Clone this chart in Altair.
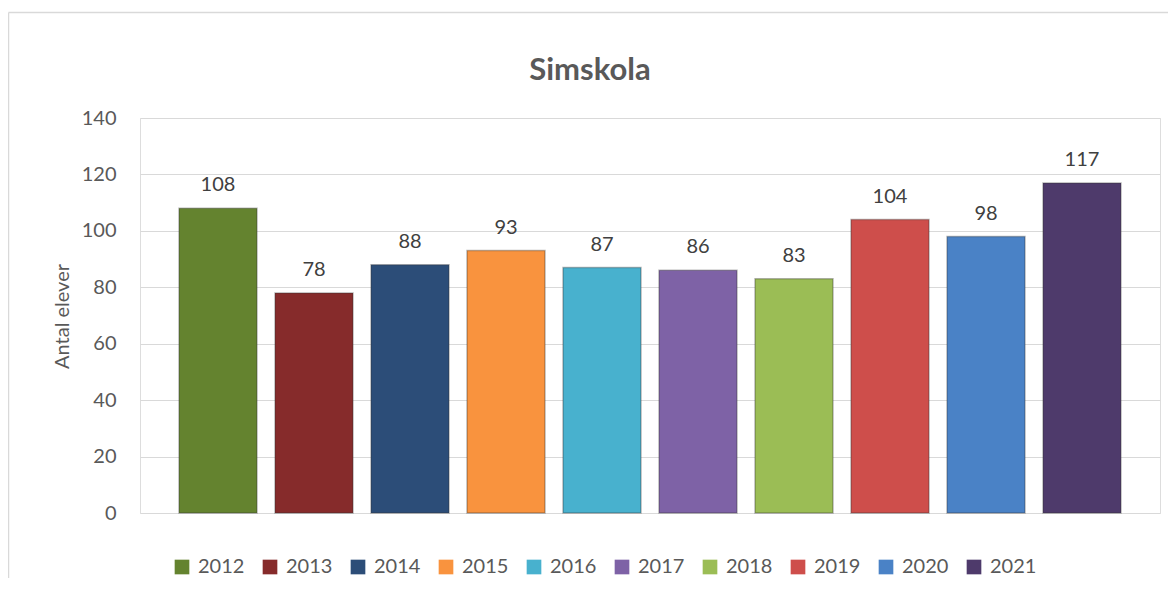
import altair as alt
import pandas as pd

years = ["2012", "2013", "2014", "2015", "2016", "2017", "2018", "2019", "2020", "2021"]
values = [108, 78, 88, 93, 87, 86, 83, 104, 98, 117]
colors = ["#64832F", "#862B2B", "#2C4D78", "#F9933E", "#48B1CE",
          "#7E62A6", "#9BBD55", "#CE4E4B", "#4A82C6", "#4E3A6B"]
chart_title = "Simskola"

df = pd.DataFrame({"year": years, "value": values})

FONT = "Lato"

x = alt.X("year:N", sort=years, axis=None,
          scale=alt.Scale(paddingInner=0.1875, paddingOuter=0.40625))
y = alt.Y("value:Q",
          scale=alt.Scale(domain=[0, 140]),
          axis=alt.Axis(values=list(range(0, 141, 20)), title="Antal elever",
                        grid=True, gridColor="#D9D9D9", gridWidth=1.2,
                        domain=False, ticks=False,
                        labelFontSize=20, labelColor="#595959", labelFont=FONT,
                        labelPadding=24,
                        titleFontSize=20, titleColor="#595959", titleFont=FONT,
                        titleFontWeight="normal",
                        titleX=-78, titleY=198, titleAngle=-90,
                        titleAlign="center", titleBaseline="middle"))

color = alt.Color("year:N", sort=years,
                  scale=alt.Scale(domain=years, range=colors),
                  legend=alt.Legend(title=None, orient="none", legendX=32, legendY=439,
                                    direction="horizontal", columns=10,
                                    symbolType="square", symbolSize=215,
                                    symbolStrokeWidth=0, symbolOpacity=1,
                                    labelFontSize=20, labelColor="#595959", labelFont=FONT,
                                    labelOffset=6, columnPadding=15, padding=0))

bars = alt.Chart(df).mark_bar(stroke="#333333", strokeOpacity=0.35, strokeWidth=1.5).encode(
    x=x, y=y, color=color)

labels = alt.Chart(df).mark_text(dy=-17, baseline="alphabetic", fontSize=20,
                                 color="#404040", font=FONT).encode(
    x=x, y="value:Q", text="value:Q")

frame_df = pd.DataFrame({"k": [0]})
top_rule = alt.Chart(frame_df).mark_rule(color="#D9D9D9", strokeWidth=1.5).encode(
    x=alt.value(-131.5), x2=alt.value(1030), y=alt.value(-105.5))
left_rule = alt.Chart(frame_df).mark_rule(color="#D9D9D9", strokeWidth=1.5).encode(
    x=alt.value(-131.5), y=alt.value(-105.5), y2=alt.value(470))

title_df = pd.DataFrame({"t": [chart_title]})
title = alt.Chart(title_df).mark_text(fontSize=31, fontWeight="bold", color="#595959",
                                      font=FONT, align="center", baseline="alphabetic").encode(
    x=alt.value(450), y=alt.value(-38), text="t:N")

chart = alt.layer(top_rule, left_rule, title, bars, labels).properties(
    width=1020, height=395,
    autosize=alt.AutoSizeParams(type="none"),
    padding={"left": 132, "top": 110, "right": 8, "bottom": 65},
).configure_view(stroke=None).configure(font=FONT)

chart.save("out.html", embed_options={"renderer": "svg", "actions": False})
